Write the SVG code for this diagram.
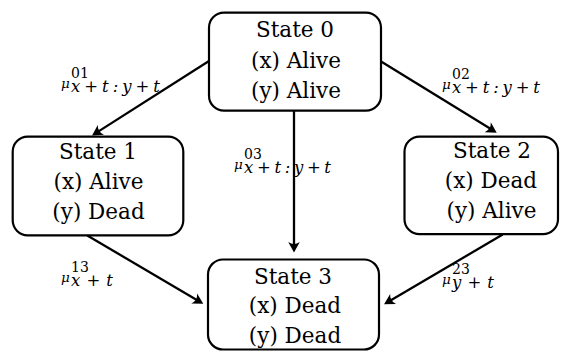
<svg xmlns="http://www.w3.org/2000/svg" width="571" height="352" viewBox="0 0 571 352">
  <style>
    .box { fill: #ffffff; stroke: #000000; stroke-width: 2.2; }
    .t { font-family: "DejaVu Serif", "Liberation Serif", serif; font-size: 21.5px; fill: #000; text-anchor: middle; }
    .edge { fill: none; stroke: #000; stroke-width: 2.3; marker-end: url(#arr); }
    .mu { font-family: "DejaVu Serif", "Liberation Serif", serif; font-style: italic; font-size: 13.5px; fill: #000; }
    .sup { font-family: "DejaVu Serif", "Liberation Serif", serif; font-size: 14px; fill: #000; }
    .sub { font-family: "DejaVu Serif", "Liberation Serif", serif; font-style: italic; font-size: 16.5px; fill: #000; }
  </style>
  <defs>
    <marker id="arr" markerUnits="userSpaceOnUse" viewBox="-12 -7 14 14" refX="-4" refY="0" markerWidth="14" markerHeight="14" orient="auto">
      <path d="M0,0 L-10.5,-5.8 Q-6.5,0 -10.5,5.8 Z" fill="#000"/>
    </marker>
  </defs>
  <rect width="571" height="352" fill="#ffffff"/>

  <g id="edges">
    <path class="edge" d="M209,61 L95.4,133.4"/>
    <path class="edge" d="M381.5,61.7 L493.3,130.6"/>
    <path class="edge" d="M294,110.7 L294,248.5"/>
    <path class="edge" d="M87.3,235.5 L199.8,301.7"/>
    <path class="edge" d="M502.7,234.5 L387.5,302.3"/>
  </g>

  <g id="state0">
    <rect class="box" x="209" y="12.7" width="172" height="98" rx="15" ry="15"/>
    <text class="t" x="295" y="37">State 0</text>
    <text class="t" x="296" y="67.5">(x) Alive</text>
    <text class="t" x="296" y="98">(y) Alive</text>
  </g>

  <g id="state1">
    <rect class="box" x="12.7" y="136.7" width="170.6" height="98.6" rx="15" ry="15"/>
    <text class="t" x="98" y="159">State 1</text>
    <text class="t" x="98.5" y="188.5">(x) Alive</text>
    <text class="t" x="98.5" y="218.5">(y) Dead</text>
  </g>

  <g id="state2">
    <rect class="box" x="404.5" y="136.7" width="153.5" height="97.5" rx="15" ry="15"/>
    <text class="t" x="492" y="158">State 2</text>
    <text class="t" x="491" y="187.5">(x) Dead</text>
    <text class="t" x="491.5" y="218">(y) Alive</text>
  </g>

  <g id="state3">
    <rect class="box" x="208" y="259.5" width="171" height="90" rx="15" ry="15"/>
    <text class="t" x="293" y="283.5">State 3</text>
    <text class="t" x="295" y="313">(x) Dead</text>
    <text class="t" x="295" y="342.5">(y) Dead</text>
  </g>

  <g id="labels">
    <g id="label01">
      <text class="mu" x="61" y="88">μ</text>
      <text class="sup" x="71" y="77.5">01</text>
      <text class="sub" x="71" y="91.5" textLength="89" lengthAdjust="spacing">x+t:y+t</text>
    </g>
    <g id="label02">
      <text class="mu" x="442" y="89">μ</text>
      <text class="sup" x="452" y="78.5">02</text>
      <text class="sub" x="452" y="92.5" textLength="88" lengthAdjust="spacing">x+t:y+t</text>
    </g>
    <g id="label03">
      <text class="mu" x="234" y="169">μ</text>
      <text class="sup" x="244" y="159">03</text>
      <text class="sub" x="244" y="172.5" textLength="87" lengthAdjust="spacing">x+t:y+t</text>
    </g>
    <g id="label13">
      <text class="mu" x="61" y="282">μ</text>
      <text class="sup" x="71" y="272">13</text>
      <text class="sub" x="71" y="285.5" textLength="42" lengthAdjust="spacing">x+t</text>
    </g>
    <g id="label23">
      <text class="mu" x="442" y="284">μ</text>
      <text class="sup" x="452" y="274">23</text>
      <text class="sub" x="452" y="287.5" textLength="42" lengthAdjust="spacing">y+t</text>
    </g>
  </g>
</svg>
